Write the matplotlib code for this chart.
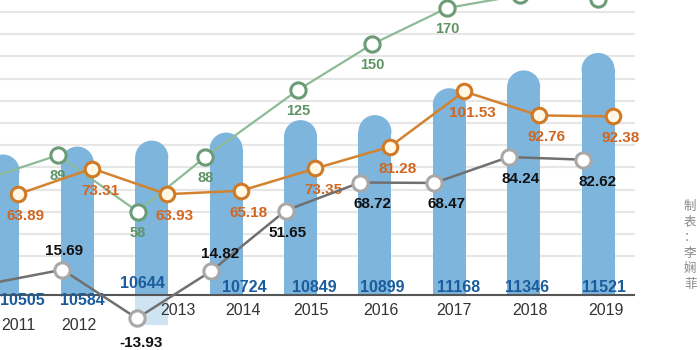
import numpy as np
import matplotlib
matplotlib.use('Agg')
import matplotlib.pyplot as plt
from matplotlib.patches import Ellipse

plt.rcParams['font.family'] = ['Liberation Sans', 'DejaVu Sans']

# data
years = ['2011', '2012', '2013', '2014', '2015', '2016', '2017', '2018', '2019']
sales = [10505, 10584, 10644, 10724, 10849, 10899, 11168, 11346, 11521]
green_vals = [76, 89, 58, 88, 125, 150, 170, 177, 175]
orange_vals = [63.89, 73.31, 63.93, 65.18, 73.35, 81.28, 101.53, 92.76, 92.38]
gray_vals = [7, 15.69, -13.93, 14.82, 51.65, 68.72, 68.47, 84.24, 82.62]

# colours
bar_c = '#7db5dd'
bar_txt = '#1a5c9c'
green_line, green_edge, green_txt = '#8dbb97', '#6b9c76', '#5e9466'
orange_line, orange_edge, orange_txt = '#d38330', '#d07a28', '#d0661f'
gray_line, gray_edge = '#707070', '#a8a8a8'

x = np.arange(len(years))
green_shift = [-0.22, -0.26, -0.19, -0.28, -0.03, -0.04, -0.03, -0.05, 0.0]

fig = plt.figure(figsize=(7, 3.5), dpi=100)
ax = fig.add_axes([0, 0, 1, 1])
ax.set_xlim(-0.04, 9.37)
ax.set_ylim(0, 350)
ax.axis('off')

# horizontal guide lines
grid_y = 93.8 + 22.2 * np.arange(12)
ax.hlines(grid_y, -0.1, 8.49, color='#e6e6e6', lw=1.5, zorder=0)


def overlay(lo, hi):
    a = ax.twinx()
    a.set_ylim(lo, hi)
    a.axis('off')
    return a


# bars with rounded tops
base = 9100
cap = 165
bar_w = 0.444
ax_bar = overlay(8550, 12050)
ax_bar.bar(2, -300, bottom=base, width=bar_w, color='#cfe4f3', zorder=1)
ax_bar.bar(x, np.array(sales) - cap - base, bottom=base, width=bar_w,
           color=bar_c, zorder=2)
for xi, v in zip(x, sales):
    ax_bar.add_patch(Ellipse((xi, v - cap), bar_w, 2 * cap, color=bar_c,
                             lw=0, zorder=2))
ax_bar.hlines(base, -0.1, 8.49, color='#555555', lw=1.5, zorder=3)

bar_dx = [19, 5, -9, 18, 14, 7, 9, 3, 6]
bar_dy = [-5, -5, 12, 8, 8, 8, 8, 8, 8]
for xi, v, dx, dy in zip(x, sales, bar_dx, bar_dy):
    ax_bar.annotate(str(v), (xi, base), xytext=(dx, dy), textcoords='offset pixels',
                    ha='center', va='center', fontsize=11.5, fontweight='bold',
                    color=bar_txt, zorder=5)

year_dx = [15, 2, 26, 17, 10, 6, 5, 6, 8]
year_dy = [-30, -30, -15, -15, -15, -15, -15, -15, -15]
for xi, yr, dx, dy in zip(x, years, year_dx, year_dy):
    ax_bar.annotate(yr, (xi, base), xytext=(dx, dy), textcoords='offset pixels',
                    ha='center', va='center', fontsize=11.5, color='#333333')

# green series
ax_g = overlay(-18.2, 174.4)
xg = x + np.array(green_shift)
ax_g.plot(xg, green_vals, color=green_line, lw=1.6, marker='o', ms=11,
          mfc='white', mec=green_edge, mew=2.2, clip_on=False)
for xi, v in zip(xg[1:], green_vals[1:]):
    ax_g.annotate(f'{v:g}', (xi, v), xytext=(0, -21), textcoords='offset pixels',
                  ha='center', va='center', fontsize=10.5, fontweight='bold',
                  color=green_txt)

# orange series
ax_o = overlay(6.9, 135.0)
xo = x + 0.2
ax_o.plot(xo, orange_vals, color=orange_line, lw=1.8, marker='o', ms=10.5,
          mfc='#fff8e4', mec=orange_edge, mew=2.2)
for xi, v in zip(xo, orange_vals):
    ax_o.annotate(f'{v:g}', (xi, v), xytext=(8, -22), textcoords='offset pixels',
                  ha='center', va='center', fontsize=11, fontweight='bold',
                  color=orange_txt)

# gray series
ax_k = overlay(-33.2, 179.8)
xk = x - 0.2
ax_k.plot(xk, gray_vals, color=gray_line, lw=1.8, marker='o', ms=11,
          mfc='white', mec=gray_edge, mew=2.2)
gray_dx = [2, 4, 9, 2, 12, 12, 12, 14]
gray_dy = [19, -25, 17, -22, -21, -21, -22, -22]
for xi, v, dx, dy in zip(xk[1:], gray_vals[1:], gray_dx, gray_dy):
    ax_k.annotate(f'{v:g}', (xi, v), xytext=(dx, dy), textcoords='offset pixels',
                  ha='center', va='center', fontsize=11, fontweight='bold',
                  color='#111111')

fig.text(684 / 700, 1 - 200 / 350, '制\n表\n：\n李\n娴\n菲',
         family=['Noto Sans CJK SC', 'DejaVu Sans'], fontsize=9,
         color='#8a8a8a', ha='left', va='top', linespacing=1.25)

fig.savefig('out.png', dpi=100)
